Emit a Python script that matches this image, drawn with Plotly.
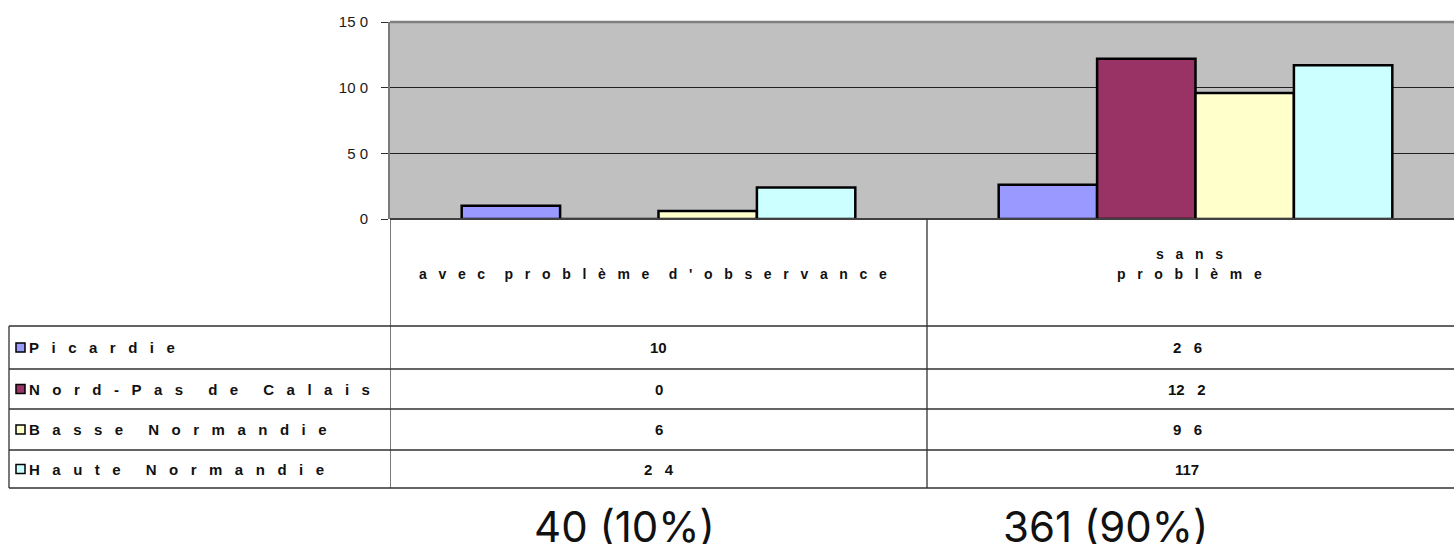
import plotly.graph_objects as go

# Data
categories = ["avec problème d'observance", "sans problème"]
category_lines = [["avec problème d'observance"], ["sans", "problème"]]
regions = ["Picardie", "Nord-Pas de Calais", "Basse Normandie", "Haute Normandie"]
picardie = [10, 26]
nord_pas_de_calais = [0, 122]
basse_normandie = [6, 96]
haute_normandie = [24, 117]
cell_text = [["10", "2 6"], ["0", "12 2"], ["6", "9 6"], ["2 4", "117"]]
tick_values = [0, 50, 100, 150]
tick_labels = ["0", "5 0", "10 0", "15 0"]
colors = ["#9999FF", "#993366", "#FFFFCC", "#CCFFFF"]

series = [picardie, nord_pas_de_calais, basse_normandie, haute_normandie]

W, H = 1454, 544
L, T, ZERO_Y = 390, 22, 219
PLOT_H = ZERO_Y - T
B = H - ZERO_Y
NBSP = "\u00a0"


def py(y):
    """pixel row -> paper y"""
    return (ZERO_Y - y) / PLOT_H


def px(x):
    """pixel column -> paper x"""
    return (x - L) / (W - L)


def spread(s, gap=3, word_gap=6):
    """wide character spacing used in the data table"""
    words = s.split(" ")
    return (NBSP * word_gap).join((NBSP * gap).join(w) for w in words)


def spread_digits(s):
    return s.replace(" ", NBSP * 3)


TABLE_FONT = dict(family="Liberation Sans Narrow, Liberation Sans", size=15,
                  color="#111", weight="bold")
HEADER_FONT = dict(family="Liberation Sans, Arial", size=14, color="#111", weight="bold")

fig = go.Figure()
for name, vals, col in zip(regions, series, colors):
    fig.add_trace(go.Bar(
        x=[0, 1], y=vals, name=name,
        marker=dict(color=col, line=dict(color="black", width=2.5)),
        showlegend=False,
    ))

col_w = 537.0
fig.update_layout(
    width=W, height=H,
    margin=dict(l=L, r=0, t=T, b=B, pad=0),
    paper_bgcolor="white",
    plot_bgcolor="#C0C0C0",
    barmode="group",
    bargap=0.267,
    bargroupgap=0,
    xaxis=dict(range=[-0.5, -0.5 + (W - L) / col_w], showticklabels=False,
               showgrid=False, zeroline=False, showline=False, fixedrange=True),
    yaxis=dict(range=[0, 150], tickvals=tick_values, ticktext=tick_labels,
               showgrid=True, gridcolor="#202020", gridwidth=1,
               zeroline=False, showline=True, linecolor="#7a7a7a", linewidth=2,
               ticks="outside", ticklen=7, tickcolor="#303030",
               ticklabelstandoff=10,
               tickfont=dict(family="Liberation Sans, Arial", size=15, color="#1a1a1a"),
               fixedrange=True),
    font=dict(family="Liberation Sans, Arial"),
)

shapes = []
line = dict(color="#303030", width=1.3)
# top border of the plotting area
shapes.append(dict(type="line", xref="paper", yref="paper", x0=0, x1=1, y0=1, y1=1,
                   line=dict(color="#808080", width=2.5)))
# baseline
shapes.append(dict(type="line", xref="paper", yref="paper", x0=0, x1=1, y0=0, y1=0,
                   line=dict(color="#404040", width=2)))
# data table grid
row_lines = [326, 369, 409, 450, 488]
for y in row_lines:
    shapes.append(dict(type="line", xref="paper", yref="paper",
                       x0=px(9), x1=1, y0=py(y), y1=py(y), line=line))
for xv in [-0.5, 0.5]:
    shapes.append(dict(type="line", xref="x", yref="paper",
                       x0=xv, x1=xv, y0=0, y1=py(488), line=line))
shapes.append(dict(type="line", xref="paper", yref="paper",
                   x0=px(9), x1=px(9), y0=py(326), y1=py(488), line=line))

annotations = []
col_shift = [0.0, -0.015]
row_centers = [(row_lines[i] + row_lines[i + 1]) / 2 for i in range(4)]
for i, (lab, col) in enumerate(zip(regions, colors)):
    yc = row_centers[i]
    shapes.append(dict(type="rect", xref="paper", yref="paper",
                       x0=px(16), x1=px(25), y0=py(yc - 4.5), y1=py(yc + 4.5),
                       fillcolor=col, line=dict(color="black", width=1.5)))
    annotations.append(dict(xref="paper", yref="paper", x=px(27), y=py(yc),
                            text=spread(lab), showarrow=False,
                            xanchor="left", yanchor="middle", font=TABLE_FONT))
    for j in range(2):
        annotations.append(dict(xref="x", yref="paper", x=j + col_shift[j], y=py(yc),
                                text=spread_digits(cell_text[i][j]), showarrow=False,
                                xanchor="center", yanchor="middle", font=TABLE_FONT))

# category headers of the data table
header_rows = [[274], [254, 274]]
for j, lines in enumerate(category_lines):
    for txt, yl in zip(lines, header_rows[j]):
        annotations.append(dict(xref="x", yref="paper", x=j - 0.011, y=py(yl),
                                text=spread(txt, gap=3, word_gap=5), showarrow=False,
                                xanchor="center", yanchor="middle", font=HEADER_FONT))

# totals under each column
totals = [sum(s[j] for s in series) for j in range(2)]
grand = sum(totals)
total_x = [624, 1105]
for j, t in enumerate(totals):
    annotations.append(dict(xref="paper", yref="paper", x=px(total_x[j]), y=py(526),
                            text=f"{t} ({round(100 * t / grand)}%)", showarrow=False,
                            xanchor="center", yanchor="middle",
                            font=dict(family="Inter, Noto Sans", size=42, color="#111")))

fig.update_layout(shapes=shapes, annotations=annotations)
fig.write_html("out.html")
